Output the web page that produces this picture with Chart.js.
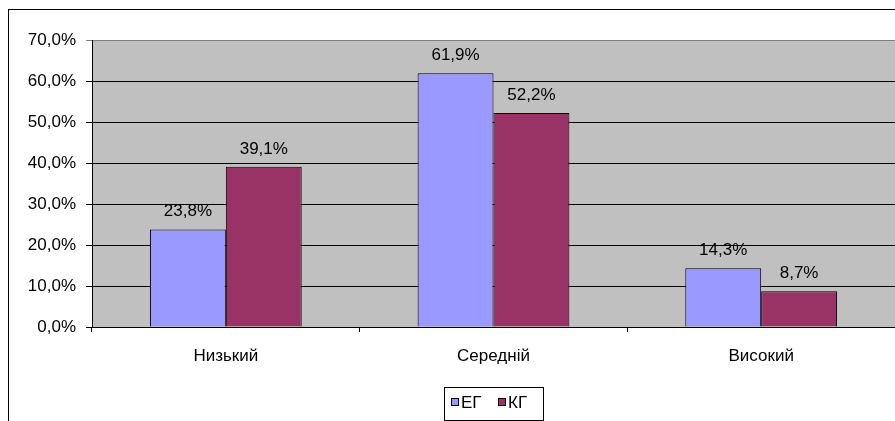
<!DOCTYPE html>
<html>
<head>
<meta charset="utf-8">
<script src="https://cdn.jsdelivr.net/npm/chart.js@4"></script>
<style>
  html, body { margin: 0; padding: 0; background: #fff; overflow: hidden; }
  #wrap { width: 895px; height: 421px; }
</style>
</head>
<body>
<div id="wrap"><canvas id="levelChart" width="895" height="421"></canvas></div>
<script>
const categories = ["Низький", "Середній", "Високий"];
const egValues = [23.8, 61.9, 14.3];
const kgValues = [39.1, 52.2, 8.7];
const seriesNames = ["ЕГ", "КГ"];
const yTicks = [0, 10, 20, 30, 40, 50, 60, 70];

const FONT = '"Liberation Sans", Arial, sans-serif';
const colors = ["#9999ff", "#993366"];

const fmt = v => v.toFixed(1).replace(".", ",") + "%";

// gray plot area + outer frame
const backdrop = {
  id: "backdrop",
  beforeDraw(chart) {
    const { ctx, chartArea: a } = chart;
    ctx.save();
    ctx.strokeStyle = "#000";
    ctx.lineWidth = 1;
    ctx.strokeRect(8.5, 9.5, 1200, 1200);
    ctx.fillStyle = "#c0c0c0";
    ctx.fillRect(a.left, a.top, a.right - a.left, a.bottom - a.top);
    ctx.restore();
  }
};

// value labels above bars
const barLabels = {
  id: "barLabels",
  afterDatasetsDraw(chart) {
    const { ctx } = chart;
    ctx.save();
    ctx.font = "17px " + FONT;
    ctx.fillStyle = "#000";
    ctx.textAlign = "center";
    ctx.textBaseline = "alphabetic";
    chart.data.datasets.forEach((ds, i) => {
      chart.getDatasetMeta(i).data.forEach((bar, j) => {
        ctx.fillText(fmt(ds.data[j]), bar.x, bar.y - 13);
      });
    });
    ctx.restore();
  }
};

// Excel-like legend box at the bottom
const boxLegend = {
  id: "boxLegend",
  afterDraw(chart) {
    const { ctx } = chart;
    ctx.save();
    ctx.fillStyle = "#fff";
    ctx.strokeStyle = "#000";
    ctx.lineWidth = 1;
    ctx.fillRect(444.5, 387.5, 99, 33);
    ctx.strokeRect(444.5, 387.5, 99, 33);
    ctx.font = "17px " + FONT;
    ctx.textBaseline = "middle";
    ctx.textAlign = "left";
    const xs = [451, 498];
    seriesNames.forEach((name, i) => {
      ctx.fillStyle = colors[i];
      ctx.fillRect(xs[i] + 0.5, 398.5, 7, 7);
      ctx.strokeRect(xs[i] + 0.5, 398.5, 7, 7);
      ctx.fillStyle = "#000";
      ctx.fillText(name, xs[i] + 10, 403);
    });
    ctx.restore();
  }
};

new Chart(document.getElementById("levelChart"), {
  type: "bar",
  data: {
    labels: categories,
    datasets: [
      { label: seriesNames[0], data: egValues, backgroundColor: colors[0], borderColor: "#000", borderWidth: 1 },
      { label: seriesNames[1], data: kgValues, backgroundColor: colors[1], borderColor: "#000", borderWidth: 1 }
    ]
  },
  options: {
    responsive: false,
    animation: false,
    devicePixelRatio: 1,
    layout: { padding: { top: 40, left: 0, right: 0, bottom: 0 } },
    datasets: { bar: { barPercentage: 1, categoryPercentage: 0.567 } },
    plugins: { legend: { display: false }, tooltip: { enabled: false } },
    scales: {
      x: {
        grid: { offset: true, drawOnChartArea: false, drawTicks: true, tickLength: 5, color: "#000" },
        border: { color: "#000" },
        ticks: { color: "#000", font: { family: FONT, size: 17 }, padding: 14 },
        afterFit(scale) { scale.height = 94; }
      },
      y: {
        min: 0,
        max: 70,
        afterBuildTicks(scale) { scale.ticks = yTicks.map(v => ({ value: v })); },
        grid: {
          color: c => (c.tick && c.tick.value === 70 ? "#808080" : "#000"),
          tickLength: 6
        },
        border: { color: "#000" },
        ticks: {
          color: "#000",
          font: { family: FONT, size: 17 },
          padding: 10,
          callback: v => fmt(v)
        },
        afterFit(scale) { scale.width = 92; }
      }
    }
  },
  plugins: [backdrop, barLabels, boxLegend]
});
</script>
</body>
</html>
